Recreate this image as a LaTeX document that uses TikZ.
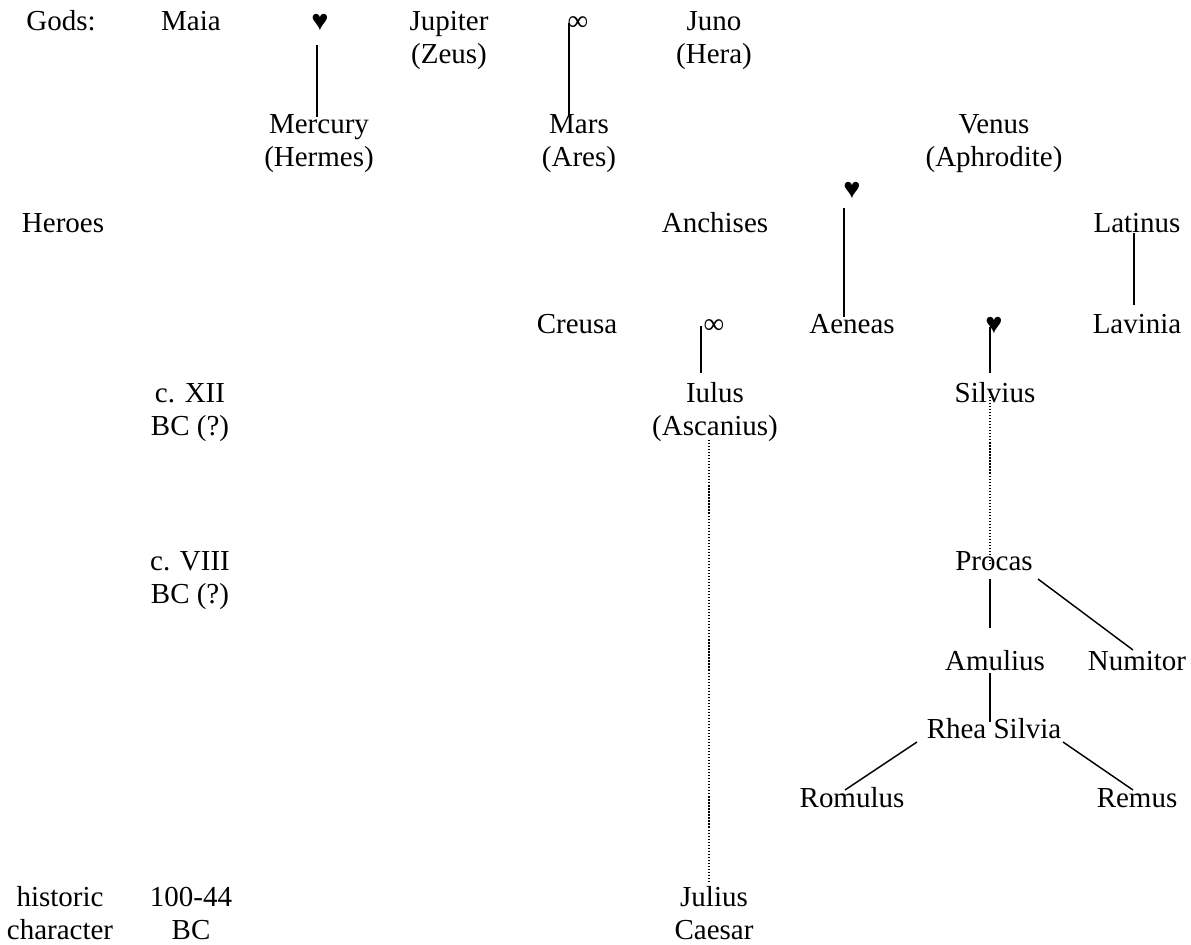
\documentclass[tikz,border=0pt]{standalone}
\usepackage{fontspec}
\setmainfont{Liberation Serif}
\usepackage{tikz}
\tikzstyle{person}=[inner sep=0pt, anchor=base, align=center, font=\fontsize{12}{13.66}\selectfont]
\tikzstyle{tie}=[draw, line width=0.6pt]
\tikzstyle{dots}=[draw, line width=0.55pt, dash pattern=on 0.5pt off 0.75pt]

\begin{document}
\begin{tikzpicture}[x=0.414pt, y=-0.414pt]
		\useasboundingbox (0,0) rectangle (1191,944);
		% left columns
		\node[person] (gods) at (61,30) {Gods:};
		\node[person] (heroes) at (63,232) {Heroes};
		\node[person] (historic) at (60,939) {historic\\character};
		\node[person] (maia) at (191,30) {Maia};
		\node[person] (xii) at (190,435) {c. XII\\BC (?)};
		\node[person] (viii) at (190,603) {c. VIII\\BC (?)};
		\node[person] (bc) at (191,939) {100-44\\BC};
		% gods
		\node[person] (h1) at (320,30) {♥};
		\node[person] (jupiter) at (449,63) {Jupiter\\(Zeus)};
		\node[person] (inf1) at (578,30) {∞};
		\node[person] (juno) at (714,63) {Juno\\(Hera)};
		\node[person] (mercury) at (319,166) {Mercury\\(Hermes)};
		\node[person] (mars) at (579,166) {Mars\\(Ares)};
		\node[person] (venus) at (994,166) {Venus\\(Aphrodite)};
		% heroes
		\node[person] (anchises) at (715,232) {Anchises};
		\node[person] (h3) at (852,198) {♥};
		\node[person] (latinus) at (1137,232) {Latinus};
		\node[person] (creusa) at (577,333) {Creusa};
		\node[person] (inf2) at (714,333) {∞};
		\node[person] (aeneas) at (852,333) {Aeneas};
		\node[person] (h4) at (994,333) {♥};
		\node[person] (lavinia) at (1137,333) {Lavinia};
		\node[person] (iulus) at (715,435) {Iulus\\(Ascanius)};
		\node[person] (silvius) at (995,402) {Silvius};
		\node[person] (procas) at (994,570) {Procas};
		\node[person] (amulius) at (995,670) {Amulius};
		\node[person] (numitor) at (1137,670) {Numitor};
		\node[person] (rhea) at (994,738) {Rhea Silvia};
		\node[person] (romulus) at (852,807) {Romulus};
		\node[person] (remus) at (1137,807) {Remus};
		\node[person] (caesar) at (714,939) {Julius\\Caesar};
		% descent
		\draw[tie] ([shift={(-3,15)}]h1.base) -- ([shift={(-2,-49)}]mercury.base);
		\draw[tie] ([shift={(-9,-7)}]inf1.base) -- ([shift={(-10,-51)}]mars.base);
		\draw[tie] ([shift={(-8,10)}]h3.base) -- ([shift={(-8,-16)}]aeneas.base);
		\draw[tie] ([shift={(-3,1)}]latinus.base) -- ([shift={(-3,-28)}]lavinia.base);
		\draw[tie] ([shift={(-13,-7)}]inf2.base) -- ([shift={(-14,-62)}]iulus.base);
		\draw[tie] ([shift={(-4,-6)}]h4.base) -- ([shift={(-5,-29)}]silvius.base);
		\draw[dots] ([shift={(-5,-5)}]silvius.base) -- ([shift={(-4,-5)}]procas.base);
		\draw[tie] ([shift={(-4,9)}]procas.base) -- ([shift={(-5,-42)}]amulius.base);
		\draw[tie] ([shift={(44,9)}]procas.base) -- ([shift={(-4,-20)}]numitor.base);
		\draw[tie] ([shift={(-5,3)}]amulius.base) -- ([shift={(-4,-16)}]rhea.base);
		\draw[tie] ([shift={(-77,4)}]rhea.base) -- ([shift={(-7,-17)}]romulus.base);
		\draw[tie] ([shift={(69,4)}]rhea.base) -- ([shift={(-4,-17)}]remus.base);
		\draw[dots] ([shift={(-6,5)}]iulus.base) -- ([shift={(-5,-56)}]caesar.base);
	\end{tikzpicture}
\end{document}
